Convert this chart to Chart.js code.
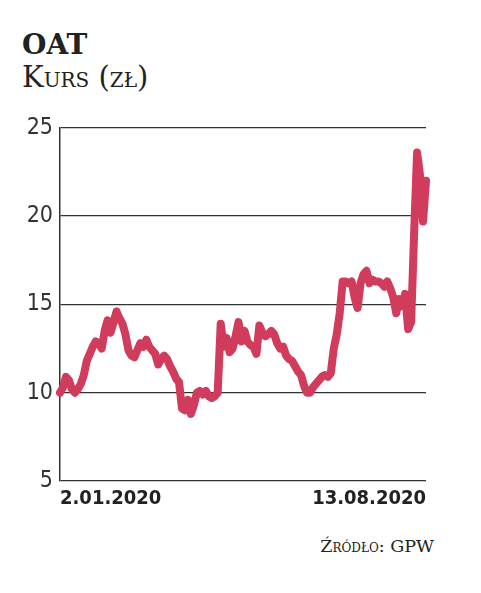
<!DOCTYPE html>
<html>
<head>
<meta charset="utf-8">
<script src="https://cdn.jsdelivr.net/npm/chart.js@4/dist/chart.umd.min.js"></script>
<style>
  html, body { margin: 0; padding: 0; background: #fff; }
  body { width: 481px; height: 593px; position: relative; overflow: hidden; }
  .t1 { position: absolute; left: 22px; top: 31px; font-family: "DejaVu Serif", serif; font-weight: bold; font-size: 28px; line-height: 1; color: #222; white-space: nowrap; }
  .t2 { position: absolute; left: 22px; top: 63px; font-family: "DejaVu Serif", serif; font-variant: small-caps; font-size: 29px; line-height: 1; color: #222; white-space: nowrap; }
  .src { position: absolute; right: 47px; top: 538px; font-family: "DejaVu Serif", serif; font-variant: small-caps; font-size: 17.5px; line-height: 1; color: #222; white-space: nowrap; }
  #wrap { position: absolute; left: 0; top: 107px; width: 481px; height: 433px; }
</style>
</head>
<body>
<div class="t1">OAT</div>
<div class="t2">Kurs (zł)</div>
<div class="src">Źródło: GPW</div>
<div id="wrap"><canvas id="c" width="481" height="433"></canvas></div>
<script>
const title = "OAT";
const subtitle = "Kurs (zł)";
const source = "Źródło: GPW";
const tickLabels = ["2.01.2020", "13.08.2020"];
const yTicks = [5, 10, 15, 20, 25];
const prices = [
  10.0, 10.3, 10.9, 10.7, 10.2, 10.0, 10.2, 10.5, 11.0, 11.8,
  12.2, 12.6, 12.9, 12.8, 12.5, 13.5, 14.1, 13.4, 14.0, 14.6,
  14.2, 13.9, 13.3, 12.4, 12.1, 12.0, 12.4, 12.8, 12.6, 13.0,
  12.6, 12.4, 12.2, 11.6, 11.9, 12.1, 11.9, 11.5, 11.2, 10.8,
  10.6, 9.1, 9.0, 9.6, 8.8, 9.3, 10.0, 10.1, 9.9, 10.1,
  9.8, 9.7, 9.8, 10.0, 13.9, 12.6, 13.1, 12.3, 12.5, 13.2,
  14.0, 12.9, 13.5, 12.9, 12.7, 12.6, 12.2, 13.8, 13.4, 13.2,
  13.3, 13.5, 13.3, 12.8, 12.5, 12.6, 12.1, 11.9, 11.8, 11.5,
  11.2, 11.0, 10.4, 10.0, 10.0, 10.3, 10.5, 10.7, 10.9, 11.0,
  10.9, 11.1, 12.5, 13.3, 14.5, 16.3, 16.3, 16.2, 16.3, 15.4,
  14.8, 16.2, 16.7, 16.9, 16.2, 16.4, 16.3, 16.3, 16.2, 16.0,
  16.3, 15.9, 15.4, 14.5, 15.3, 14.9, 15.6, 13.6, 14.0, 19.0,
  23.6, 22.3, 19.7, 22.0
];
const labels = prices.map((v, i) => i === 0 ? tickLabels[0] : (i === prices.length - 1 ? tickLabels[1] : ''));

new Chart(document.getElementById('c'), {
  type: 'line',
  data: {
    labels: labels,
    datasets: [{
      data: prices,
      borderColor: '#d13b5c',
      borderWidth: 8,
      pointRadius: 0,
      tension: 0,
      borderJoinStyle: 'round',
      borderCapStyle: 'round',
      fill: false
    }]
  },
  options: {
    responsive: false,
    animation: false,
    devicePixelRatio: 1,
    layout: { padding: { top: 14, right: 55, left: 0, bottom: 0 } },
    plugins: { legend: { display: false }, tooltip: { enabled: false } },
    scales: {
      x: {
        offset: false,
        grid: { display: false, drawTicks: false },
        border: { display: false },
        ticks: {
          autoSkip: false,
          maxRotation: 0,
          minRotation: 0,
          align: 'inner',
          padding: 6,
          color: '#222',
          font: { family: '"DejaVu Sans Condensed", "DejaVu Sans", sans-serif', size: 20, weight: 'bold' },
          callback: function(v, i) { return labels[i]; }
        },
        afterFit: function(s) { s.height = 59; }
      },
      y: {
        min: 5, max: 25,
        afterBuildTicks: function(s) { s.ticks = yTicks.map(v => ({ value: v })); },
        grid: { color: '#333', lineWidth: 1.3, drawTicks: false },
        border: { display: true, color: '#333', width: 1.5 },
        ticks: {
          padding: 7,
          color: '#333',
          font: { family: '"Liberation Sans Narrow", "DejaVu Sans Condensed", sans-serif', size: 23 }
        },
        afterFit: function(s) { s.width = 60; }
      }
    }
  }
});
</script>
</body>
</html>
